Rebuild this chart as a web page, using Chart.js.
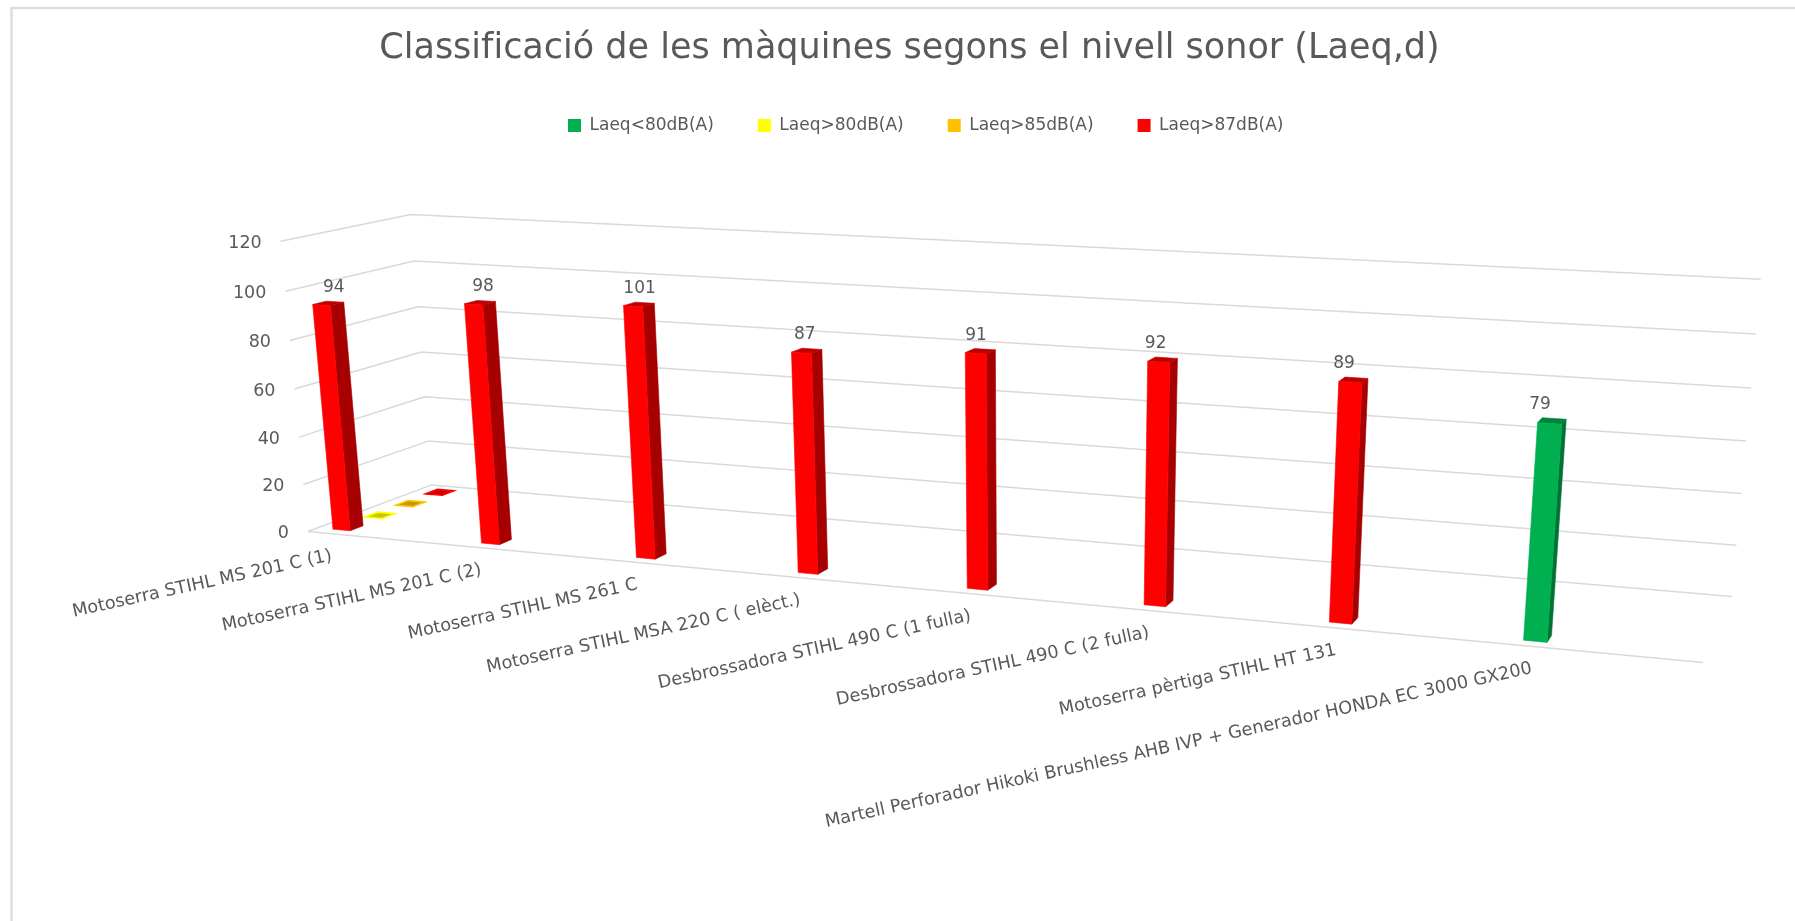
<!DOCTYPE html>
<html lang="ca">
<head>
<meta charset="utf-8">
<title>Classificació de les màquines segons el nivell sonor</title>
<script src="https://cdn.jsdelivr.net/npm/chart.js@4/dist/chart.umd.js"></script>
<style>
  html, body { margin: 0; padding: 0; background: #fff; }
  canvas { display: block; }
</style>
</head>
<body>
<canvas id="chart" width="1795" height="921"></canvas>
<script>
const titleText = 'Classificació de les màquines segons el nivell sonor (Laeq,d)';
const categories = [
  'Motoserra STIHL MS 201 C (1)',
  'Motoserra STIHL MS 201 C (2)',
  'Motoserra STIHL MS 261 C',
  'Motoserra STIHL MSA 220 C ( elèct.)',
  'Desbrossadora STIHL 490 C (1 fulla)',
  'Desbrossadora STIHL 490 C (2 fulla)',
  'Motoserra pèrtiga STIHL HT 131',
  'Martell Perforador Hikoki Brushless AHB IVP + Generador HONDA EC 3000 GX200'
];
const seriesNames = ['Laeq<80dB(A)', 'Laeq>80dB(A)', 'Laeq>85dB(A)', 'Laeq>87dB(A)'];
const seriesColours = ['#00B050', '#FFFF00', '#FFC000', '#FF0000'];
// the first series holds every measure, recoloured point by point as in the workbook
const laeqValues = [94, 98, 101, 87, 91, 92, 89, 79];
const laeqColours = ['#FF0000', '#FF0000', '#FF0000', '#FF0000', '#FF0000', '#FF0000', '#FF0000', '#00B050'];
const above80 = [0];
const above85 = [0];
const above87 = [0];

const TEXT = '#595959';
const GRID = '#D9D9D9';
const BAR_SHIFT = 0.042;  // bars sit left of the centre of their band
const BAR_DEPTH = 0.05;

// floor and wall corners of the 3D box on screen, used to fit the perspective
const anchors = [
  [0, 0, 0, 307.7, 531.3], [1, 0, 0, 1703.3, 662.3], [1, 0, 1, 1731.7, 596.7], [0, 0, 1, 431.7, 485],
  [0, 1, 0, 280.7, 241.7], [0, 1, 1, 410.7, 214.3], [1, 1, 1, 1760.7, 279.3]
];

function fitProjection(pts){
  const rows = [];
  pts.forEach(([u, v, d, sx, sy]) => {
    const x = sx / 1000, y = sy / 1000;
    rows.push([u, v, d, 1, 0, 0, 0, 0, -x * u, -x * v, -x * d, x]);
    rows.push([0, 0, 0, 0, u, v, d, 1, -y * u, -y * v, -y * d, y]);
  });
  const n = 11;
  const m = Array.from({ length: n }, (_, i) => Array.from({ length: n + 1 }, (_, j) =>
    rows.reduce((s, r) => s + r[i] * r[j], 0)));
  for(let c = 0; c < n; c++){
    let best = c;
    for(let r = c + 1; r < n; r++) if(Math.abs(m[r][c]) > Math.abs(m[best][c])) best = r;
    [m[c], m[best]] = [m[best], m[c]];
    for(let r = 0; r < n; r++){
      if(r === c) continue;
      const f = m[r][c] / m[c][c];
      for(let k = c; k <= n; k++) m[r][k] -= f * m[c][k];
    }
  }
  return m.map((row, i) => row[n] / row[i]);
}
const P = fitProjection(anchors);

function project(u, v, d){
  const w = P[8] * u + P[9] * v + P[10] * d + 1;
  return {
    x: 1000 * (P[0] * u + P[1] * v + P[2] * d + P[3]) / w,
    y: 1000 * (P[4] * u + P[5] * v + P[6] * d + P[7]) / w
  };
}

function darken(hex, f){
  const n = parseInt(hex.slice(1), 16);
  const c = [n >> 16, (n >> 8) & 255, n & 255].map(x => Math.round(x * f));
  return `rgb(${c[0]},${c[1]},${c[2]})`;
}

function face(ctx, pts, fill, stroke, lw){
  ctx.beginPath();
  pts.forEach((p, i) => i ? ctx.lineTo(p.x, p.y) : ctx.moveTo(p.x, p.y));
  ctx.closePath();
  ctx.fillStyle = fill;
  ctx.fill();
  ctx.strokeStyle = stroke || fill;
  ctx.lineWidth = lw || 0.6;
  ctx.stroke();
}

function barBox(el){
  const a = el.ownerChart.chartArea;
  const { x, y, base, width } = el.getProps(['x', 'y', 'base', 'width']);
  const mid = (x - a.left) / a.width - BAR_SHIFT;
  const half = width / a.width / 2;
  const dc = (el.ownerIndex + 0.5) / seriesNames.length;
  return {
    u0: mid - half, u1: mid + half,
    v0: (a.bottom - base) / a.height, v1: (a.bottom - y) / a.height,
    d0: dc - BAR_DEPTH, d1: dc + BAR_DEPTH
  };
}

class Bar3DElement extends Chart.BarElement {
  static id = 'bar3d';
  draw(ctx){
    const { u0, u1, v0, v1, d0, d1 } = barBox(this);
    const col = this.options.backgroundColor;
    const top = [project(u0, v1, d0), project(u1, v1, d0), project(u1, v1, d1), project(u0, v1, d1)];
    ctx.save();
    if(v1 - v0 < 0.001){
      face(ctx, top, darken(col, 0.78), col, 1.6);  // zero value: only a flat tile on the floor
    }else{
      face(ctx, [project(u1, v0, d0), project(u1, v0, d1), project(u1, v1, d1), project(u1, v1, d0)], darken(col, 0.65));
      face(ctx, top, darken(col, 0.75));
      face(ctx, [project(u0, v0, d0), project(u1, v0, d0), project(u1, v1, d0), project(u0, v1, d0)], col);
    }
    ctx.restore();
  }
}

class Bar3DController extends Chart.BarController {
  static id = 'bar3d';
  static defaults = { dataElementType: 'bar3d' };
  static overrides = Chart.BarController.overrides;
  update(mode){
    super.update(mode);
    this._cachedMeta.data.forEach(el => { el.ownerChart = this.chart; el.ownerIndex = this.index; });
  }
}
Chart.register(Bar3DElement, Bar3DController);

const box3d = {
  id: 'box3d',
  beforeDraw(chart){
    const c = chart.ctx;
    c.save();
    c.fillStyle = '#fff';
    c.fillRect(0, 0, chart.width, chart.height);
    // frame of the pasted chart, only top and left are on the picture
    c.strokeStyle = '#DDDDDD';
    c.lineWidth = 2.5;
    c.beginPath();
    c.moveTo(11.5, 921);
    c.lineTo(11.5, 8);
    c.lineTo(1795, 8);
    c.stroke();
    c.restore();
  },
  afterLayout(chart){
    // legend stands left of the centre in the reference; it also clips to its own box
    const lg = chart.legend;
    const pad = lg.options.labels.padding;
    lg.left = 568 - pad;
    lg.right = lg.left + 1000;
    lg.top = 126 - pad - 9;
    lg.bottom = lg.top + 2 * pad + 18;
  },
  beforeDatasetsDraw(chart){
    const c = chart.ctx, y = chart.scales.y, x = chart.scales.x;
    const seg = (a, b) => { c.moveTo(a.x, a.y); c.lineTo(b.x, b.y); };
    c.save();
    c.strokeStyle = GRID;
    c.lineWidth = 1.5;
    c.beginPath();
    seg(project(0, 0, 0), project(1, 0, 0));
    y.ticks.forEach(t => {
      const v = (t.value - y.min) / (y.max - y.min);
      seg(project(0, v, 0), project(0, v, 1));
      seg(project(0, v, 1), project(1, v, 1));
    });
    c.stroke();

    c.fillStyle = TEXT;
    c.font = '17.5px "DejaVu Sans"';
    c.textAlign = 'right';
    c.textBaseline = 'middle';
    y.ticks.forEach(t => {
      const p = project(0, (t.value - y.min) / (y.max - y.min), 0);
      c.fillText(t.label, p.x - 19, p.y + 2);
    });

    c.font = '17.7px "DejaVu Sans"';
    x.getLabels().forEach((label, i) => {
      const a = chart.chartArea;
      const u = (x.getPixelForTick(i) - a.left) / a.width - BAR_SHIFT;
      const p = project(u, 0, 0);
      c.save();
      c.translate(p.x, p.y + 22);
      c.rotate(-12.3 * Math.PI / 180);
      c.fillText(label, 0, 0);
      c.restore();
    });
    c.restore();
  },
  afterDatasetsDraw(chart){
    const c = chart.ctx;
    const meta = chart.getDatasetMeta(0);
    c.save();
    c.fillStyle = TEXT;
    c.font = '17px "DejaVu Sans"';
    c.textAlign = 'center';
    c.textBaseline = 'middle';
    meta.data.forEach((el, i) => {
      const b = barBox(el);
      const mid = (b.u0 + b.u1) / 2;
      const p = project(mid, b.v1, (b.d0 + b.d1) / 2);
      c.fillText(String(laeqValues[i]), p.x + 6 - 20 * mid, p.y - 16);
    });
    c.restore();
  }
};

const chart = new Chart(document.getElementById('chart'), {
  type: 'bar3d',
  data: {
    labels: categories,
    datasets: [
      { label: seriesNames[0], data: laeqValues, backgroundColor: laeqColours },
      { label: seriesNames[1], data: above80, backgroundColor: seriesColours[1] },
      { label: seriesNames[2], data: above85, backgroundColor: seriesColours[2] },
      { label: seriesNames[3], data: above87, backgroundColor: seriesColours[3] }
    ]
  },
  plugins: [box3d],
  options: {
    responsive: false,
    animation: false,
    layout: { padding: { left: 24, top: 24 } },
    datasets: { bar3d: { grouped: false, categoryPercentage: 1, barPercentage: 0.118, borderWidth: 0 } },
    plugins: {
      tooltip: { enabled: false },
      title: {
        display: true,
        text: titleText,
        color: TEXT,
        font: { family: '"DejaVu Sans"', size: 35, weight: 'normal' },
        padding: { top: 4, bottom: 10 }
      },
      legend: {
        align: 'start',
        onClick: null,
        labels: {
          boxWidth: 13,
          boxHeight: 13,
          padding: 44,
          font: { family: '"DejaVu Sans"', size: 17 },
          generateLabels: () => seriesNames.map((text, i) => ({
            text, fillStyle: seriesColours[i], strokeStyle: seriesColours[i], lineWidth: 0,
            fontColor: TEXT, datasetIndex: i
          }))
        }
      }
    },
    scales: {
      x: { display: false, ticks: { autoSkip: false } },
      y: { display: false, min: 0, max: 120, ticks: { stepSize: 20 } }
    }
  }
});
</script>
</body>
</html>
